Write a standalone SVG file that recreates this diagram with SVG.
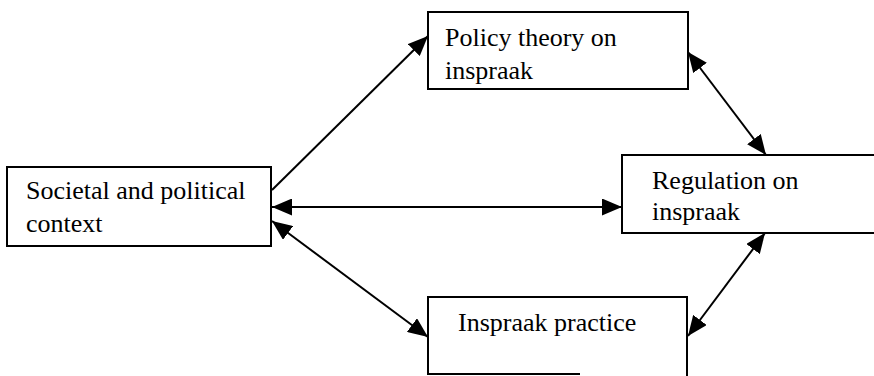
<svg xmlns="http://www.w3.org/2000/svg" width="874" height="376" viewBox="0 0 874 376">
<style>
.box{fill:#fff;stroke:#000;stroke-width:2}
.lbl{font-family:'Liberation Serif','Times New Roman',Times,serif;font-size:26px;fill:#000}
.con{stroke:#000;stroke-width:2;fill:none}
</style>
<defs>
<marker id="ah" markerUnits="userSpaceOnUse" markerWidth="20" markerHeight="17" refX="20" refY="8.5" orient="auto-start-reverse">
<path d="M0,0 L20,8.5 L0,17 z" fill="#000"/>
</marker>
</defs>
<rect width="874" height="376" fill="#fff"/>
<g id="societal">
<rect class="box" x="7" y="167" width="264" height="79"/>
<text class="lbl" x="26" y="199">Societal and political</text>
<text class="lbl" x="26" y="232">context</text>
</g>
<g id="policy">
<rect class="box" x="428" y="12" width="260" height="77"/>
<text class="lbl" x="445" y="46">Policy theory on</text>
<text class="lbl" x="445" y="79">inspraak</text>
</g>
<g id="regulation">
<rect class="box" x="622" y="155" width="262" height="78"/>
<text class="lbl" x="652" y="189">Regulation on</text>
<text class="lbl" x="652" y="220">inspraak</text>
</g>
<g id="practice">
<path class="box" d="M580,374 H428 V297 H687 V380"/>
<text class="lbl" x="458" y="331">Inspraak practice</text>
</g>
<g id="connectors">
<line class="con" x1="272" y1="190" x2="428" y2="36" marker-end="url(#ah)"/>
<line class="con" x1="272" y1="207" x2="622" y2="207" marker-start="url(#ah)" marker-end="url(#ah)"/>
<line class="con" x1="272" y1="221" x2="428" y2="337" marker-start="url(#ah)" marker-end="url(#ah)"/>
<line class="con" x1="688" y1="52" x2="766" y2="155" marker-start="url(#ah)" marker-end="url(#ah)"/>
<line class="con" x1="765" y1="233" x2="688" y2="336" marker-start="url(#ah)" marker-end="url(#ah)"/>
</g>
</svg>
